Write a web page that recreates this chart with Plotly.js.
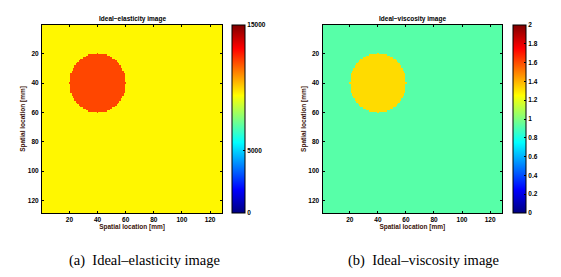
<!DOCTYPE html>
<html><head><meta charset="utf-8">
<script src="https://cdn.plot.ly/plotly-3.0.1.min.js"></script>
<style>body{margin:0;background:#fff}#c{width:561px;height:277px}</style>
</head><body><div id="c"></div>
<script>
// Image grid (pixel index, mm)
const gridSize = 128;
// Circular inclusion
const inclusionCenter = [40, 40];   // [x, y] mm
const inclusionRadius = 20;         // mm
// Elasticity values
const elasticityBackground = 9500;
const elasticityInclusion = 12100;
const elasticityRange = [0, 15000];
const elasticityTicks = [0, 5000, 15000];
// Viscosity values
const viscosityBackground = 0.92;
const viscosityInclusion = 1.32;
const viscosityRange = [0, 2];
const viscosityTicks = [0, 0.2, 0.4, 0.6, 0.8, 1, 1.2, 1.4, 1.6, 1.8, 2];
const axisTicks = [20, 40, 60, 80, 100, 120];
const titles = ["Ideal\u2212elasticity image", "Ideal\u2212viscosity image"];
const captions = ["(a)  Ideal\u2013elasticity image", "(b)  Ideal\u2013viscosity image"];
const axisLabel = "Spatial location [mm]";

const coords = Array.from({length: gridSize}, (_, i) => i + 1);
function image(bg, inc) {
  return coords.map(y => coords.map(x => {
    const dx = x - inclusionCenter[0], dy = y - inclusionCenter[1];
    return (dx*dx + dy*dy <= inclusionRadius*inclusionRadius) ? inc : bg;
  }));
}
const jet = [[0,'rgb(0,0,128)'],[0.125,'rgb(0,0,255)'],[0.375,'rgb(0,255,255)'],
             [0.625,'rgb(255,255,0)'],[0.875,'rgb(255,0,0)'],[1,'rgb(128,0,0)']];
const W = 561, H = 277;
const tickFont = {family: 'Liberation Sans, Arial', size: 6.5, color: '#000', weight: 'bold'};
function cb(xpx, ticks, fmt) {
  return {x: xpx / W, xanchor: 'left', xref: 'paper', y: 1 - 213/H, yanchor: 'bottom',
    len: 188, lenmode: 'pixels', thickness: 13, thicknessmode: 'pixels',
    outlinewidth: 1, outlinecolor: '#000', xpad: 0, ypad: 0,
    tickvals: ticks, ticks: 'inside', ticklen: 2, tickcolor: '#000', tickformat: fmt,
    tickfont: tickFont, ticklabelpad: 1};
}
const traces = [
  {type: 'heatmap', x: coords, y: coords, z: image(elasticityBackground, elasticityInclusion),
   colorscale: jet, zmin: elasticityRange[0], zmax: elasticityRange[1], xaxis: 'x', yaxis: 'y',
   colorbar: cb(232, elasticityTicks, 'd'), hoverinfo: 'skip'},
  {type: 'heatmap', x: coords, y: coords, z: image(viscosityBackground, viscosityInclusion),
   colorscale: jet, zmin: viscosityRange[0], zmax: viscosityRange[1], xaxis: 'x2', yaxis: 'y2',
   colorbar: cb(512.5, viscosityTicks, ''), hoverinfo: 'skip'}
];
const labelFont = {family: 'Liberation Sans, Arial', size: 6.5, color: '#3a1208', weight: 'bold'};
function xa(d) {
  return {domain: d, range: [0.5, 128.5], tickvals: axisTicks, ticks: 'inside', ticklen: 2,
    tickcolor: '#000', showline: true, linecolor: '#000', linewidth: 1, mirror: 'ticks',
    showgrid: false, zeroline: false, tickfont: tickFont, ticklabelstandoff: 0,
    title: {text: axisLabel, font: labelFont, standoff: 2}};
}
function ya(d) {
  return {domain: d, range: [128.5, 0.5], tickvals: axisTicks, ticks: 'inside', ticklen: 2,
    tickcolor: '#000', showline: true, linecolor: '#000', linewidth: 1, mirror: 'ticks',
    showgrid: false, zeroline: false, tickfont: tickFont, ticklabelstandoff: 1,
    title: {text: axisLabel, font: labelFont, standoff: 1}};
}
const yd = [1 - 213/H, 1 - 25/H];
const capFont = {family: 'Liberation Serif, Times New Roman', size: 14.5, color: '#000'};
const titleFont = {family: 'Liberation Sans, Arial', size: 6.5, color: '#000', weight: 'bold'};
const layout = {
  width: W, height: H, margin: {l: 0, r: 0, t: 0, b: 0}, showlegend: false,
  paper_bgcolor: '#fff', plot_bgcolor: '#fff',
  xaxis: Object.assign(xa([42/W, 222/W]), {anchor: 'y'}),
  yaxis: Object.assign(ya(yd), {anchor: 'x'}),
  xaxis2: Object.assign(xa([322.5/W, 502/W]), {anchor: 'y2'}),
  yaxis2: Object.assign(ya(yd), {anchor: 'x2'}),
  annotations: [
    {text: titles[0], x: 132/W, y: 1 - 18.5/H, xref: 'paper', yref: 'paper', showarrow: false,
     xanchor: 'center', yanchor: 'middle', font: titleFont},
    {text: titles[1], x: 412/W, y: 1 - 18.5/H, xref: 'paper', yref: 'paper', showarrow: false,
     xanchor: 'center', yanchor: 'middle', font: titleFont},
    {text: captions[0], x: 144/W, y: 1 - 260/H, xref: 'paper', yref: 'paper', showarrow: false,
     xanchor: 'center', yanchor: 'middle', font: capFont},
    {text: captions[1], x: 424/W, y: 1 - 260/H, xref: 'paper', yref: 'paper', showarrow: false,
     xanchor: 'center', yanchor: 'middle', font: capFont}
  ]
};
Plotly.newPlot('c', traces, layout, {staticPlot: true, displayModeBar: false});
</script></body></html>
